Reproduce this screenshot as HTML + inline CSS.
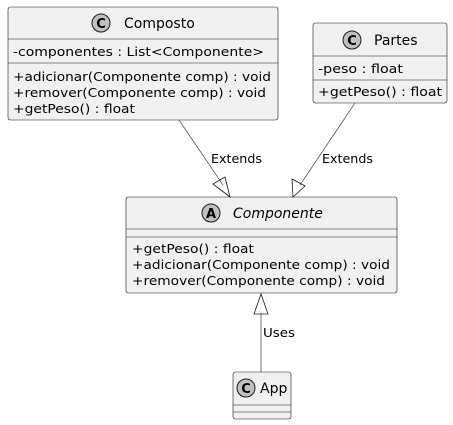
<!DOCTYPE html>
<html><head><meta charset="utf-8"><style>
html,body{margin:0;padding:0;background:#fff;}
svg{display:block;}
text{font-family:"DejaVu Sans","Liberation Sans",sans-serif;fill:#000;}
.m{font-size:12.5px;}
.t{font-size:14px;}
.l{font-size:12.5px;}
.box{fill:#F1F1F1;stroke:#181818;stroke-width:0.6;}
.ln{stroke:#181818;stroke-width:0.6;}
</style></head><body>
<svg width="453" height="425" viewBox="0 0 453 425" xmlns="http://www.w3.org/2000/svg">
<!-- Composto -->
<rect class="box" x="8" y="7" width="270" height="113" rx="2.5"/>
<line class="ln" x1="8" y1="39" x2="278" y2="39"/>
<line class="ln" x1="8" y1="63" x2="278" y2="63"/>
<circle cx="101" cy="23" r="9" fill="#C0C0C0" stroke="#181818" stroke-width="1"/>
<text x="101" y="28" text-anchor="middle" style="font-size:13px;font-weight:bold">C</text>
<text class="t" x="124" y="28">Composto</text>
<text class="m" x="13" y="56" textLength="251" lengthAdjust="spacingAndGlyphs">-componentes : List&lt;Componente&gt;</text>
<text class="m" x="13" y="81" textLength="258" lengthAdjust="spacingAndGlyphs">+adicionar(Componente comp) : void</text>
<text class="m" x="13" y="97" textLength="253" lengthAdjust="spacingAndGlyphs">+remover(Componente comp) : void</text>
<text class="m" x="13" y="113" textLength="122" lengthAdjust="spacingAndGlyphs">+getPeso() : float</text>
<!-- Partes -->
<rect class="box" x="313" y="23" width="134" height="80" rx="2.5"/>
<line class="ln" x1="313" y1="56" x2="447" y2="56"/>
<line class="ln" x1="313" y1="80" x2="447" y2="80"/>
<circle cx="352" cy="40" r="9" fill="#C0C0C0" stroke="#181818" stroke-width="1"/>
<text x="352" y="45" text-anchor="middle" style="font-size:13px;font-weight:bold">C</text>
<text class="t" x="374" y="45">Partes</text>
<text class="m" x="318" y="73" textLength="85" lengthAdjust="spacingAndGlyphs">-peso : float</text>
<text class="m" x="318" y="96" textLength="124" lengthAdjust="spacingAndGlyphs">+getPeso() : float</text>
<!-- Componente -->
<rect class="box" x="126" y="197" width="271" height="96" rx="2.5"/>
<line class="ln" x1="126" y1="229" x2="397" y2="229"/>
<line class="ln" x1="126" y1="237" x2="397" y2="237"/>
<circle cx="211" cy="213" r="9" fill="#C0C0C0" stroke="#181818" stroke-width="1"/>
<text x="211" y="218" text-anchor="middle" style="font-size:13px;font-weight:bold">A</text>
<text class="t" x="233" y="218" font-style="italic">Componente</text>
<text class="m" x="132" y="253" textLength="122" lengthAdjust="spacingAndGlyphs">+getPeso() : float</text>
<text class="m" x="132" y="269" textLength="258" lengthAdjust="spacingAndGlyphs">+adicionar(Componente comp) : void</text>
<text class="m" x="132" y="285" textLength="253" lengthAdjust="spacingAndGlyphs">+remover(Componente comp) : void</text>
<!-- App -->
<rect class="box" x="233" y="372" width="58" height="47" rx="2.5"/>
<line class="ln" x1="233" y1="405" x2="291" y2="405"/>
<line class="ln" x1="233" y1="412" x2="291" y2="412"/>
<circle cx="246" cy="388" r="9" fill="#C0C0C0" stroke="#181818" stroke-width="1"/>
<text x="246" y="393" text-anchor="middle" style="font-size:13px;font-weight:bold">C</text>
<text class="t" x="260" y="393">App</text>
<!-- Edges -->
<line class="ln" x1="179" y1="120" x2="223" y2="185"/>
<polygon points="230,197 213,184 225,177" fill="none" stroke="#181818" stroke-width="0.8"/>
<text class="l" x="211" y="163" textLength="51" lengthAdjust="spacingAndGlyphs">Extends</text>
<line class="ln" x1="355" y1="103" x2="300" y2="185"/>
<polygon points="293,197 292,179 305,186" fill="none" stroke="#181818" stroke-width="0.8"/>
<text class="l" x="322" y="163" textLength="51" lengthAdjust="spacingAndGlyphs">Extends</text>
<line class="ln" x1="261" y1="313" x2="261" y2="372"/>
<polygon points="261,294 254,314 268,314" fill="none" stroke="#181818" stroke-width="0.8"/>
<text class="l" x="263" y="337" textLength="32" lengthAdjust="spacingAndGlyphs">Uses</text>
</svg>
</body></html>
